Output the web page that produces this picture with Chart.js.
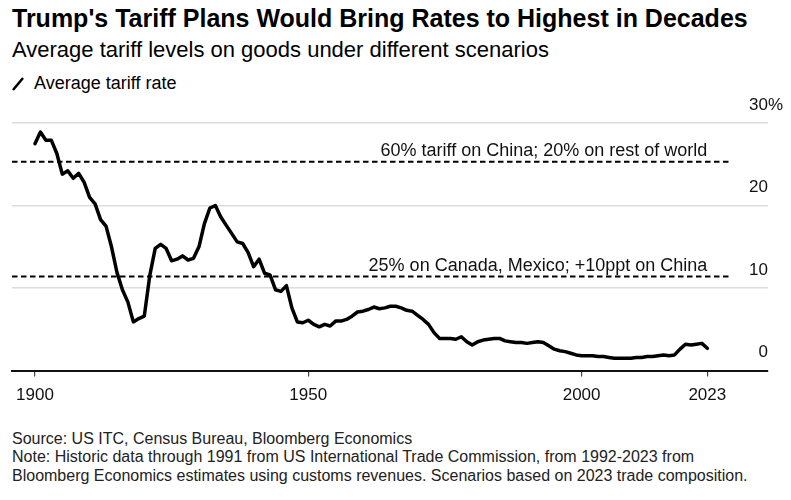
<!DOCTYPE html>
<html lang="en">
  <head>
    <meta charset="UTF-8" />
    <script src="https://cdn.jsdelivr.net/npm/chart.js@4.4.1/dist/chart.umd.min.js"></script>
    <title>Tariff chart</title>
    <style>
      body {
        margin: 0;
        width: 791px;
        height: 500px;
        background: #fff;
        font-family: "Liberation Sans", Arial, sans-serif;
        color: #000;
        position: relative;
        overflow: hidden;
      }
      #title {
        position: absolute; left: 12px; top: 4px;
        font-size: 25px; font-weight: bold; line-height: 1.15;
        white-space: nowrap;
      }
      #subtitle {
        position: absolute; left: 12px; top: 37px;
        font-size: 22px; line-height: 1.15; white-space: nowrap;
      }
      #legend {
        position: absolute; left: 12px; top: 73px;
        font-size: 18px; line-height: 1.15; white-space: nowrap;
      }
      #legend svg { vertical-align: -2px; margin-right: 10px; }
      #wrap {
        position: absolute; left: 0; top: 95px; width: 791px; height: 320px;
      }
      #footer {
        position: absolute; left: 12px; top: 430px;
        font-size: 16px; line-height: 18.3px; color: #222; white-space: nowrap;
      }
    </style>
  </head>
  <body>
    <div id="title">Trump's Tariff Plans Would Bring Rates to Highest in Decades</div>
    <div id="subtitle">Average tariff levels on goods under different scenarios</div>
    <div id="legend"><svg width="12" height="14"><line x1="1" y1="13" x2="11" y2="1" stroke="#000" stroke-width="2.5"/></svg>Average tariff rate</div>
    <div id="wrap"><canvas id="myChart"></canvas></div>
    <div id="footer">Source: US ITC, Census Bureau, Bloomberg Economics<br>Note: Historic data through 1991 from US International Trade Commission, from 1992-2023 from<br>Bloomberg Economics estimates using customs revenues. Scenarios based on 2023 trade composition.</div>

    <script>
      const years = [];
      for (let y = 1900; y <= 2023; y++) years.push(y);

      // average tariff rate, %, 1900-2023
      const rates = [
        27.5, 28.9, 27.9, 27.9, 26.3, 23.8, 24.2, 23.3, 23.9, 22.8,
        21.0, 20.2, 18.3, 17.5, 15.0, 11.9, 9.8, 8.3, 5.9, 6.3,
        6.6, 11.5, 14.8, 15.3, 14.8, 13.3, 13.5, 13.9, 13.4, 13.6,
        15.0, 17.8, 19.7, 20.0, 18.6, 17.6, 16.6, 15.6, 15.4, 14.3,
        12.6, 13.5, 11.8, 11.6, 9.8, 9.6, 10.3, 7.6, 5.9, 5.8,
        6.1, 5.6, 5.3, 5.6, 5.4, 6.0, 6.0, 6.2, 6.6, 7.1,
        7.2, 7.4, 7.7, 7.5, 7.6, 7.8, 7.8, 7.6, 7.3, 7.2,
        6.7, 6.2, 5.6, 4.6, 3.9, 3.9, 3.9, 3.8, 4.1, 3.5,
        3.1, 3.5, 3.7, 3.8, 3.9, 3.9, 3.6, 3.5, 3.4, 3.4,
        3.3, 3.4, 3.5, 3.4, 3.0, 2.6, 2.4, 2.3, 2.1, 1.9,
        1.8, 1.8, 1.8, 1.7, 1.7, 1.6, 1.5, 1.5, 1.5, 1.5,
        1.6, 1.6, 1.7, 1.7, 1.8, 1.9, 1.8, 1.9, 2.6, 3.2,
        3.1, 3.2, 3.3, 2.7
      ];

      const scenarioLabels = [
        "60% tariff on China; 20% on rest of world",
        "25% on Canada, Mexico; +10ppt on China"
      ];
      const scenarioRates = [25.3, 11.4];

      const xTicks = [1900, 1950, 2000, 2023];
      const yTicks = [0, 10, 20, 30];

      const xMin = 1895.8, xMax = 2034.1, dashEnd = 2027.1;

      const scenarioSets = scenarioRates.map(v => ({
        data: [{ x: xMin, y: v }, { x: dashEnd, y: v }],
        borderColor: "#000",
        borderWidth: 2,
        borderDash: [5.5, 3.5],
        pointRadius: 0
      }));

      // scenario texts and the % on the top tick
      const extras = {
        id: "extras",
        afterDatasetsDraw(chart) {
          const { ctx, scales } = chart;
          ctx.save();
          ctx.fillStyle = "#111";
          ctx.font = "18px 'Liberation Sans', Arial";
          ctx.textAlign = "right";
          ctx.textBaseline = "alphabetic";
          scenarioRates.forEach((v, i) => {
            ctx.fillText(scenarioLabels[i], scales.x.getPixelForValue(2023), scales.y.getPixelForValue(v) - 6);
          });
          ctx.font = "17px 'Liberation Sans', Arial";
          ctx.textAlign = "left";
          ctx.textBaseline = "middle";
          ctx.fillText("%", chart.chartArea.right, scales.y.getPixelForValue(30) - 18);
          ctx.restore();
        }
      };

      const ctx = document.getElementById("myChart").getContext("2d");
      const myChart = new Chart(ctx, {
        type: "line",
        data: {
          datasets: [
            {
              label: "Average tariff rate",
              data: years.map((y, i) => ({ x: y, y: rates[i] })),
              borderColor: "#000",
              borderWidth: 3.5,
              borderJoinStyle: "round",
              borderCapStyle: "round",
              pointRadius: 0,
              tension: 0
            },
            ...scenarioSets
          ]
        },
        options: {
          responsive: true,
          maintainAspectRatio: false,
          animation: false,
          layout: { padding: { left: 12, right: 23, top: 28, bottom: 0 } },
          plugins: { legend: { display: false }, tooltip: { enabled: false } },
          scales: {
            x: {
              type: "linear",
              min: xMin,
              max: xMax,
              afterBuildTicks: axis => { axis.ticks = xTicks.map(v => ({ value: v })); },
              grid: { drawOnChartArea: false, drawTicks: true, tickLength: 6, color: "#444", lineWidth: 1.2 },
              border: { display: true, color: "#111", width: 2 },
              ticks: {
                padding: 9,
                color: "#111",
                font: { family: "'Liberation Sans', Arial", size: 17 },
                maxRotation: 0,
                callback: v => String(v)
              }
            },
            y: {
              position: "right",
              min: 0,
              max: 30,
              afterBuildTicks: axis => { axis.ticks = yTicks.map(v => ({ value: v })); },
              grid: {
                drawTicks: false,
                color: c => (c.tick && c.tick.value === 0 ? "rgba(0,0,0,0)" : "#dcdcdc"),
                lineWidth: 1.5
              },
              border: { display: false },
              ticks: {
                mirror: true,
                padding: 0,
                labelOffset: -18,
                color: "#111",
                font: { family: "'Liberation Sans', Arial", size: 17 },
                callback: v => String(v)
              }
            }
          }
        },
        plugins: [extras]
      });
    </script>
  </body>
</html>
